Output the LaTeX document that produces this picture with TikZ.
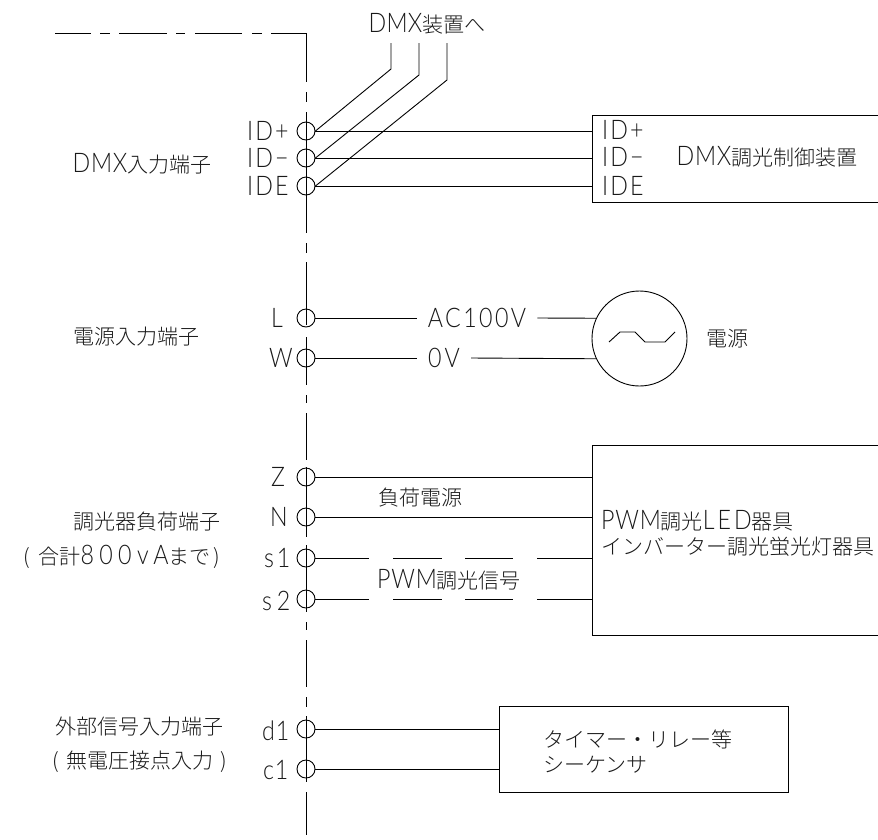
\documentclass[tikz,border=0pt]{standalone}
\usepackage{fontspec}
\setmainfont{Noto Sans CJK JP}[UprightFont=* Light]
\newfontfamily\latfont{Lato}[UprightFont=* Light,FakeStretch=0.86]
\usetikzlibrary{positioning}
\newcommand{\la}[2][3]{{\latfont\addfontfeature{LetterSpace=#1}\fontsize{27}{27}\selectfont #2}}
\tikzset{
  wire/.style={black, line width=0.9pt},
  terminal/.style={circle, draw=black, line width=0.9pt, minimum size=18pt, inner sep=0pt},
  lbl/.style={inner sep=0pt, text=black!90, font=\fontsize{21}{21}\selectfont},
  gapped/.style={lbl, inner xsep=11pt},
  devbox/.style={draw=black, line width=0.9pt, inner sep=0pt, anchor=north west}
}
\begin{document}
\begin{tikzpicture}[x=1pt, y=-1pt]
  \useasboundingbox (0,0) rectangle (878,839);
  % Panel outline
  \draw[wire] (55,33) -- (91,33) (100,33) -- (110,33) (119,33) -- (167,33) (176,33) -- (185,33)
    (195,33) -- (242,33) (252,33) -- (262,33) (271,33) -- (306,33) -- (306,82)
    (306,92) -- (306,102) (306,112) -- (306,233) (306,243) -- (306,253) (306,262) -- (306,325)
    (306,337) -- (306,385) (306,395) -- (306,403) (306,413) -- (306,460) (306,467) -- (306,537)
    (306,545) -- (306,612) (306,622) -- (306,630) (306,640) -- (306,687) (306,697) -- (306,707)
    (306,716) -- (306,782) (306,792) -- (306,835);
  % Terminals
  \node[terminal] (tIDp) at (306,131) {};
  \node[terminal] (tIDm) at (306,158) {};
  \node[terminal] (tIDE) at (306,186) {};
  \node[terminal] (tL) at (306,318) {};
  \node[terminal] (tW) at (306,358) {};
  \node[terminal] (tZ) at (306,477) {};
  \node[terminal] (tN) at (306,517) {};
  \node[terminal] (tsa) at (306,558) {};
  \node[terminal] (tsb) at (306,599) {};
  \node[terminal] (tda) at (306,729) {};
  \node[terminal] (tca) at (306,769) {};
  % Terminal names
  \node[lbl, anchor=west] (nIDp) at (247,131) {\la[8]{ID+}};
  \node[lbl, anchor=west] (nIDm) at (247,158) {\la[8]{ID−}};
  \node[lbl, anchor=west] (nIDE) at (247,186) {\la[8]{IDE}};
  \node[lbl, anchor=west] (nL) at (271,318) {\la{L}};
  \node[lbl, anchor=west] (nW) at (269,358) {\la{W}};
  \node[lbl, anchor=west] (nZ) at (271,477) {\la{Z}};
  \node[lbl, anchor=west] (nN) at (270,517) {\la{N}};
  \node[lbl, anchor=west] (nsa) at (264,558) {\la[10]{s1}};
  \node[lbl, anchor=west] (nsb) at (262,601) {\la[18]{s2}};
  \node[lbl, anchor=west] (nda) at (262,731) {\la{d1}};
  \node[lbl, anchor=west] (nca) at (263,770) {\la{c1}};
  % Group names
  \node[lbl] (gDMX) at (142,164) {\la{DMX}入力端子};
  \node[lbl] (gAC) at (136,337) {電源入力端子};
  \node[lbl] (gLoad) at (147,522) {調光器負荷端子};
  \node[lbl] (gLoadSub) at (122,557) {(\hspace{8pt}合計\la[20]{800vA}まで\hspace{3pt})};
  \node[lbl] (gExt) at (139,727) {外部信号入力端子};
  \node[lbl] (gExtSub) at (140,762) {(\hspace{7pt}無電圧接点入力\hspace{7pt})};
  % DMX device
  \node[devbox, minimum width=290pt, minimum height=87pt] (bDMX) at (592,115) {};
  \node[lbl, anchor=west] (bIDp) at (602,130) {\la[8]{ID+}};
  \node[lbl, anchor=west] (bIDm) at (602,157) {\la[8]{ID−}};
  \node[lbl, anchor=west] (bIDE) at (602,186) {\la[8]{IDE}};
  \node[lbl] (bDMXname) at (767,157) {\la{DMX}調光制御装置};
  \draw[wire] (tIDp.east) -- (tIDp.east -| bDMX.west);
  \draw[wire] (tIDm.east) -- (tIDm.east -| bDMX.west);
  \draw[wire] (tIDE.east) -- (tIDE.east -| bDMX.west);
  % To other DMX units
  \node[lbl] (gOther) at (427,24) {\la[1]{DMX}装置へ};
  \coordinate (ka) at (391,69);
  \coordinate (kb) at (419,75);
  \coordinate (kc) at (447,80);
  \coordinate (ea) at (391,43);
  \coordinate (eb) at (419,43);
  \coordinate (ec) at (447,43);
  \draw[wire] (tIDp.east) -- (ka) -- (ea);
  \draw[wire] (tIDm.east) -- (kb) -- (eb);
  \draw[wire] (tIDE.east) -- (kc) -- (ec);
  % Power source
  \node[circle, draw=black, line width=0.9pt, minimum size=95pt, inner sep=0pt] (src) at (639.5,338.5) {};
  \draw[wire] (609,342) -- (620,332) -- (635,332) -- (645,342) -- (665,342) -- (675,332);
  \node[gapped] (lAC) at (477,318) {\la[9]{AC100V}};
  \node[gapped] (lzero) at (444,358) {\la[12]{0V}};
  \node[lbl] (lsrc) at (727,339) {電源};
  \draw[wire] (tL.east) -- (tL.east -| lAC.west);
  \draw[wire] (tL.east -| lAC.east) -- (src.155);
  \draw[wire] (tW.east) -- (tW.east -| lzero.west);
  \draw[wire] (tW.east -| lzero.east) -- (src.205);
  % Load device
  \node[devbox, minimum width=290pt, minimum height=190pt] (bPWM) at (592,445) {};
  \node[lbl, anchor=west] (bPWMa) at (601,521) {\la{PWM}調光\la[11]{LED}器具};
  \node[lbl, anchor=west] (bPWMb) at (601,547) {インバーター調光蛍光灯器具};
  \draw[wire] (tZ.east) -- (tZ.east -| bPWM.west);
  \draw[wire] (tN.east) -- (tN.east -| bPWM.west);
  \draw[wire, dash pattern=on 54pt off 24pt on 49pt off 23pt on 48pt off 24pt on 60pt] (tsa.east) -- (tsa.east -| bPWM.west);
  \draw[wire, dash pattern=on 54pt off 24pt on 49pt off 23pt on 48pt off 24pt on 60pt] (tsb.east) -- (tsb.east -| bPWM.west);
  \node[lbl] (lLoad) at (420,498) {負荷電源};
  \node[lbl] (lSig) at (449,580) {\la{PWM}調光信号};
  % External contact device
  \node[devbox, minimum width=289pt, minimum height=86pt] (bExt) at (499,706) {};
  \node[lbl, anchor=west] (bExta) at (543,739) {タイマー・リレー等};
  \node[lbl, anchor=west] (bExtb) at (543,765) {シーケンサ};
  \draw[wire] (tda.east) -- (tda.east -| bExt.west);
  \draw[wire] (tca.east) -- (tca.east -| bExt.west);
\end{tikzpicture}
\end{document}
